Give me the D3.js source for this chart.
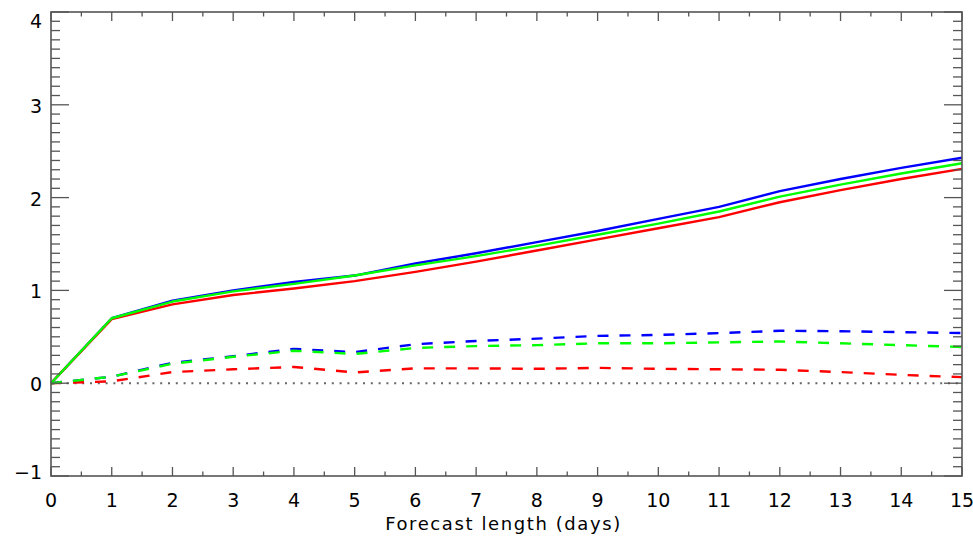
<!DOCTYPE html>
<html>
<head>
<meta charset="utf-8">
<script src="https://cdn.jsdelivr.net/npm/d3@7"></script>
<style>
  body { margin: 0; background: #fff; }
  svg { display: block; }
  text { font-family: "DejaVu Sans", "Liberation Sans", sans-serif; fill: #000; }
</style>
</head>
<body>
<svg id="chart"></svg>
<script>
// forecast length (days)
const days = d3.range(0, 16);

// solid curves
const solidBlue  = [0, 0.70, 0.89, 1.00, 1.09, 1.16, 1.29, 1.40, 1.52, 1.64, 1.77, 1.90, 2.07, 2.20, 2.32, 2.43];
const solidGreen = [0, 0.70, 0.88, 0.99, 1.07, 1.16, 1.27, 1.37, 1.48, 1.60, 1.72, 1.85, 2.01, 2.14, 2.26, 2.37];
const solidRed   = [0, 0.69, 0.85, 0.95, 1.02, 1.10, 1.20, 1.31, 1.43, 1.55, 1.67, 1.79, 1.95, 2.08, 2.20, 2.31];

// dashed curves
const dashBlue  = [0, 0.07, 0.22, 0.29, 0.37, 0.335, 0.42, 0.455, 0.48, 0.51, 0.52, 0.54, 0.565, 0.56, 0.55, 0.54];
const dashGreen = [0, 0.07, 0.21, 0.285, 0.35, 0.315, 0.38, 0.40, 0.41, 0.43, 0.43, 0.44, 0.45, 0.43, 0.41, 0.39];
const dashRed   = [0, 0.02, 0.12, 0.15, 0.175, 0.115, 0.16, 0.16, 0.155, 0.165, 0.155, 0.15, 0.145, 0.12, 0.09, 0.065];

const xTicks = d3.range(0, 16);
const yTicks = [-1, 0, 1, 2, 3, 4];

const width = 973, height = 542;
const margin = { top: 12, right: 11, bottom: 66, left: 51 };

const svg = d3.select('#chart').attr('width', width).attr('height', height);

const x = d3.scaleLinear().domain([0, 15]).range([margin.left, width - margin.right]);
const y = d3.scaleLinear().domain([-1, 4]).range([height - margin.bottom, margin.top]);

const axisColor = '#555';
const xMajor = 9, xMinor = 4.5, yMajor = 18, yMinor = 9;

const g = svg.append('g');

// zero reference (dotted)
g.append('line')
  .attr('x1', x(0)).attr('x2', x(15)).attr('y1', y(0)).attr('y2', y(0))
  .attr('stroke', '#666').attr('stroke-width', 2).attr('stroke-dasharray', '2,5.8');

const line = d3.line().x((d, i) => x(days[i])).y(d => y(d));

const series = [
  { v: dashBlue, c: '#0000ff', dash: '11,11' },
  { v: dashRed, c: '#ff0000', dash: '11,11' },
  { v: dashGreen, c: '#00ff00', dash: '11,11' },
  { v: solidBlue, c: '#0000ff', dash: null },
  { v: solidRed, c: '#ff0000', dash: null },
  { v: solidGreen, c: '#00ff00', dash: null },
];
series.forEach(s => {
  g.append('path')
    .datum(s.v)
    .attr('d', line)
    .attr('fill', 'none')
    .attr('stroke', s.c)
    .attr('stroke-width', 2.4)
    .attr('stroke-linejoin', 'round')
    .attr('stroke-dasharray', s.dash);
});

// frame
const x0 = x(0), x1 = x(15), yb = y(-1), yt = y(4);
g.append('rect')
  .attr('x', x0).attr('y', yt).attr('width', x1 - x0).attr('height', yb - yt)
  .attr('fill', 'none').attr('stroke', axisColor).attr('stroke-width', 1.6);

// x ticks (bottom & top), minor every 0.5
const xMinorTicks = d3.range(0, 15.01, 0.5);
xMinorTicks.forEach(t => {
  const len = Number.isInteger(t) ? xMajor : xMinor;
  g.append('line').attr('x1', x(t)).attr('x2', x(t)).attr('y1', yb).attr('y2', yb - len)
    .attr('stroke', axisColor).attr('stroke-width', 1.3);
  g.append('line').attr('x1', x(t)).attr('x2', x(t)).attr('y1', yt).attr('y2', yt + len)
    .attr('stroke', axisColor).attr('stroke-width', 1.3);
});

// y ticks (left & right), minor every 0.1
const yMinorTicks = d3.range(-10, 41).map(k => k / 10);
yMinorTicks.forEach((t, i) => {
  const len = (i % 10 === 0) ? yMajor : yMinor;
  g.append('line').attr('x1', x0).attr('x2', x0 + len).attr('y1', y(t)).attr('y2', y(t))
    .attr('stroke', axisColor).attr('stroke-width', 1.3);
  g.append('line').attr('x1', x1).attr('x2', x1 - len).attr('y1', y(t)).attr('y2', y(t))
    .attr('stroke', axisColor).attr('stroke-width', 1.3);
});

// tick labels
g.selectAll('.xl').data(xTicks).join('text')
  .attr('x', d => x(d)).attr('y', yb + 31)
  .attr('text-anchor', 'middle').attr('font-size', 19)
  .text(d => d);

// y labels kept inside the axis span, like the original
g.selectAll('.yl').data(yTicks).join('text')
  .attr('x', x0 - 9)
  .attr('y', d => Math.min(Math.max(y(d) + 1, yt + 9), yb - 4) + 7)
  .attr('text-anchor', 'end').attr('font-size', 19)
  .text(d => d < 0 ? '\u2212' + Math.abs(d) : d);

// axis title
g.append('text')
  .attr('x', (x0 + x1) / 2 - 3).attr('y', 530)
  .attr('text-anchor', 'middle').attr('font-size', 18)
  .attr('letter-spacing', 1.6)
  .text('Forecast length (days)');
</script>
</body>
</html>
